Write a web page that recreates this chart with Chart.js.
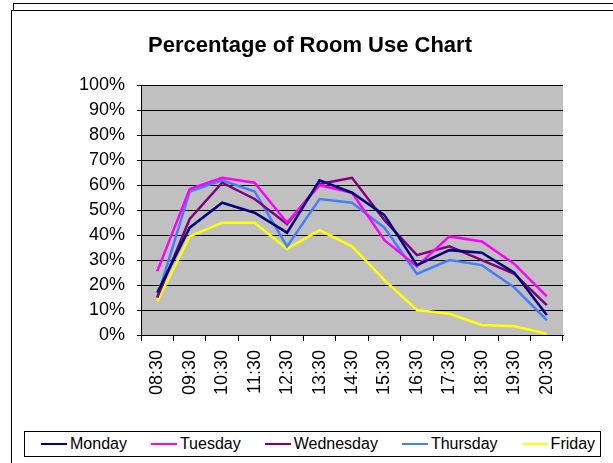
<!DOCTYPE html>
<html>
<head>
<meta charset="utf-8">
<script src="https://cdn.jsdelivr.net/npm/chart.js"></script>
<style>
  body { margin: 0; background: #fff; overflow: hidden; }
  #wrap { position: relative; width: 613px; height: 463px; }
  .frame { position: absolute; border: 1px solid #000; background: #fff; width: 700px; height: 600px; }
  #back { left: 13px; top: 3px; }
  #front { left: 11px; top: 10px; }
  canvas { position: absolute; left: 0; top: 0; }
  #legend {
    position: absolute; left: 24px; top: 431px; width: 577px; height: 26px;
    border: 1px solid #000; background: #fff; box-sizing: border-box;
    display: flex; align-items: center; padding-left: 16px;
    font: 16px "Liberation Sans", Arial, sans-serif; color: #000;
  }
  .item { display: flex; align-items: center; margin-right: 24px; white-space: nowrap; flex: none; }
  .item:last-child { margin-right: 0; }
  .swatch { width: 26px; height: 2px; margin-right: 3px; }
</style>
</head>
<body>
<div id="wrap">
  <div class="frame" id="back"></div>
  <div class="frame" id="front"></div>
  <canvas id="grafico" width="613" height="463"></canvas>
  <div id="legend"></div>
</div>
<script>
// horas y porcentajes
const horas = ["08:30", "09:30", "10:30", "11:30", "12:30", "13:30", "14:30",
               "15:30", "16:30", "17:30", "18:30", "19:30", "20:30"]

const monday    = [17, 43, 53, 49, 41, 62, 57, 48, 28, 34, 33, 25, 8]
const tuesday   = [25.5, 58.5, 63, 61, 45, 60, 57, 38, 27.5, 39.5, 37.5, 28.5, 15.5]
const wednesday = [15, 46.5, 61, 54.5, 44.5, 60.5, 63, 46, 32, 35.5, 30, 24.5, 12]
const thursday  = [15, 57.5, 62, 57.5, 35.5, 54.5, 53, 43, 24.5, 30, 28, 19, 6]
const friday    = [13.5, 39.5, 45, 45, 34.5, 42, 35.5, 22, 10, 8.5, 4, 3.5, 0.5]

const yTicks = [0, 10, 20, 30, 40, 50, 60, 70, 80, 90, 100]

const fuente = '"Liberation Sans", Arial, sans-serif'

function serie(label, data, color) {
    return {
        label: label,
        data: data,
        borderColor: color,
        backgroundColor: color,
        borderWidth: 2.5,
        pointRadius: 0,
        tension: 0,
        fill: false
    }
}

// fondo gris del area de trazado
const fondoGris = {
    id: 'fondoGris',
    beforeDraw(chart) {
        const a = chart.chartArea
        const ctx = chart.ctx
        ctx.save()
        ctx.fillStyle = '#C0C0C0'
        ctx.fillRect(a.left, a.top, a.right - a.left, a.bottom - a.top)
        ctx.restore()
    }
}

const chart = new Chart(document.getElementById('grafico'), {
    type: 'line',
    data: {
        labels: horas,
        datasets: [
            serie("Monday", monday, "#000080"),
            serie("Tuesday", tuesday, "#FF00FF"),
            serie("Wednesday", wednesday, "#800080"),
            serie("Thursday", thursday, "#4080FF"),
            serie("Friday", friday, "#FFFF00")
        ]
    },
    options: {
        responsive: false,
        animation: false,
        layout: { padding: { left: 57, right: 50, top: 0, bottom: 0 } },
        plugins: {
            legend: { display: false },
            tooltip: { enabled: false },
            title: {
                display: true,
                text: "Percentage of Room Use Chart",
                color: '#000',
                font: { family: fuente, size: 22, weight: 'bold' },
                padding: { top: 33, bottom: 26 }
            }
        },
        scales: {
            x: {
                offset: true,
                grid: {
                    offset: true,
                    drawOnChartArea: false,
                    drawTicks: true,
                    tickLength: 6,
                    color: '#000'
                },
                border: { color: '#000', width: 1 },
                ticks: {
                    color: '#000',
                    font: { family: fuente, size: 18 },
                    minRotation: 90,
                    maxRotation: 90,
                    autoSkip: false,
                    padding: 9
                },
                afterFit(scale) { scale.height = 128 }
            },
            y: {
                min: 0,
                max: 100,
                afterBuildTicks(scale) {
                    scale.ticks = yTicks.map(v => ({ value: v }))
                },
                grid: {
                    color: '#000',
                    lineWidth: 1,
                    drawTicks: true,
                    tickLength: 4
                },
                border: { color: '#000', width: 1 },
                ticks: {
                    color: '#000',
                    font: { family: fuente, size: 18 },
                    padding: 12,
                    callback: v => v + '%'
                },
                afterFit(scale) { scale.width = 84 }
            }
        }
    },
    plugins: [fondoGris]
})

// leyenda en html generada desde los datasets
const leyenda = document.getElementById('legend')
chart.data.datasets.forEach(ds => {
    const item = document.createElement('div')
    item.className = 'item'
    const linea = document.createElement('div')
    linea.className = 'swatch'
    linea.style.background = ds.borderColor
    const texto = document.createElement('span')
    texto.textContent = ds.label
    item.appendChild(linea)
    item.appendChild(texto)
    leyenda.appendChild(item)
})
</script>
</body>
</html>
